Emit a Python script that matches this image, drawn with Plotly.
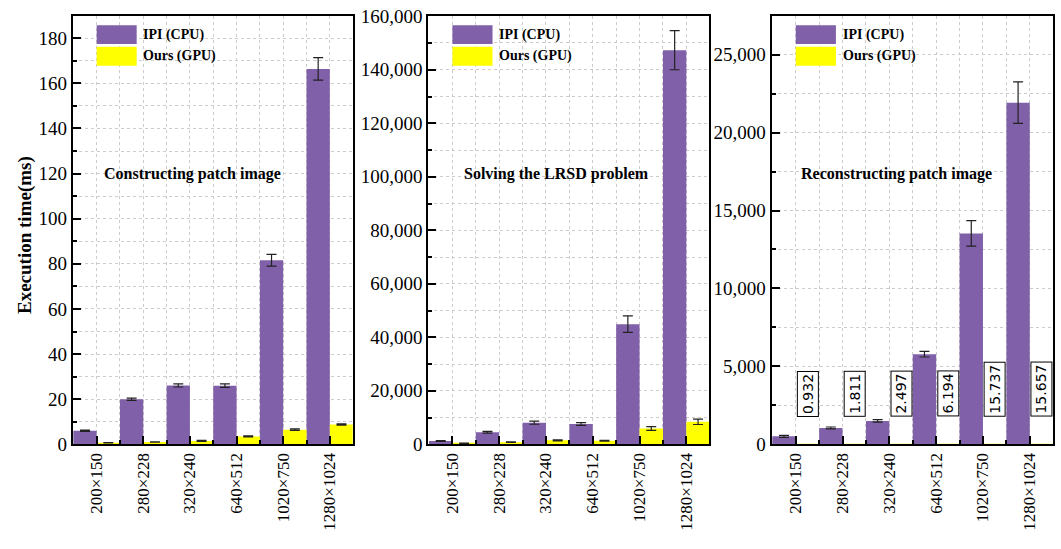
import plotly.graph_objects as go

# Image sizes (x categories)
sizes = ["200×150", "280×228", "320×240", "640×512", "1020×750", "1280×1024"]
idx = list(range(len(sizes)))

# Stage 1: constructing patch image (ms)
construct_cpu = [6.0, 20.0, 26.1, 26.0, 81.6, 166.4]
construct_cpu_err = [0.3, 0.5, 0.7, 0.8, 2.6, 5.0]
construct_gpu = [0.7, 1.0, 1.5, 3.5, 6.5, 8.8]
construct_gpu_err = [0.1, 0.1, 0.2, 0.2, 0.3, 0.3]

# Stage 2: solving the LRSD problem (ms)
lrsd_cpu = [1200, 4500, 8100, 7600, 44900, 147300]
lrsd_cpu_err = [150, 300, 600, 500, 3100, 7300]
lrsd_gpu = [400, 800, 1500, 1300, 5900, 8400]
lrsd_gpu_err = [80, 100, 200, 150, 700, 1000]

# Stage 3: reconstructing patch image (ms)
recon_cpu = [510, 1050, 1500, 5780, 13530, 21920]
recon_cpu_err = [60, 60, 80, 180, 820, 1330]
recon_gpu = [0.932, 1.811, 2.497, 6.194, 15.737, 15.657]

panel_titles = ["Constructing patch image", "Solving the LRSD problem", "Reconstructing patch image"]
legend_names = ["IPI (CPU)", "Ours (GPU)"]

PURPLE = "#8061A9"
YELLOW = "#FFFF00"
SERIF = "Liberation Serif"

panels = [
    (construct_cpu, construct_cpu_err, construct_gpu, construct_gpu_err),
    (lrsd_cpu, lrsd_cpu_err, lrsd_gpu, lrsd_gpu_err),
    (recon_cpu, recon_cpu_err, recon_gpu, None),
]

x_domains = [(0.0685, 0.3324), (0.4037, 0.6685), (0.7273, 0.9922)]
y_domain = (0.1907, 0.9714)
y_ranges = [(0, 190), (0, 160200), (0, 27500)]
y_dticks = [20, 20000, 5000]

fig = go.Figure()

for k, (cpu, cpu_err, gpu, gpu_err) in enumerate(panels):
    xa = "x" if k == 0 else f"x{k + 1}"
    ya = "y" if k == 0 else f"y{k + 1}"
    err_style = dict(type="data", color="#222222", thickness=1.2, width=5)
    fig.add_trace(go.Bar(
        x=idx, y=cpu, width=0.5, offset=-0.5, marker=dict(color=PURPLE, line=dict(width=0)),
        error_y=dict(array=cpu_err, **err_style), name=legend_names[0],
        xaxis=xa, yaxis=ya, showlegend=False))
    gpu_kw = dict(error_y=dict(array=gpu_err, **err_style)) if gpu_err is not None else {}
    fig.add_trace(go.Bar(
        x=idx, y=gpu, width=0.5, offset=0.0, marker=dict(color=YELLOW, line=dict(width=0)),
        name=legend_names[1], xaxis=xa, yaxis=ya, showlegend=False, **gpu_kw))

    axis_common = dict(
        showline=True, linecolor="black", linewidth=2, mirror=True,
        ticks="inside", ticklen=8, tickwidth=1.5, tickcolor="black",
        showgrid=True, gridcolor="#cccccc", gridwidth=1, griddash="3px,3px",
        zeroline=False, automargin=False,
    )
    xkey = "xaxis" if k == 0 else f"xaxis{k + 1}"
    ykey = "yaxis" if k == 0 else f"yaxis{k + 1}"
    fig.layout[xkey] = dict(
        domain=list(x_domains[k]), anchor=ya, range=[-0.514, 5.49],
        tickmode="array", tickvals=idx, ticktext=sizes, tickangle=-90,
        tickfont=dict(family=SERIF, size=17, color="black"),
        minor=dict(tickvals=[i + 0.5 for i in idx[:-1]], showgrid=True, gridcolor="#cccccc",
                   griddash="3px,3px", ticks="inside", ticklen=4, tickcolor="black"),
        **axis_common)
    fig.layout[ykey] = dict(
        domain=list(y_domain), anchor=xa, range=list(y_ranges[k]),
        tick0=0, dtick=y_dticks[k], tickformat=",d",
        tickfont=dict(family=SERIF, size=19, color="black"),
        minor=dict(dtick=y_dticks[k] / 2, showgrid=True, gridcolor="#cccccc",
                   griddash="3px,3px", ticks="inside", ticklen=4, tickcolor="black"),
        **axis_common)

    # In-panel legend: colour blocks with bold labels
    xd = f"{xa} domain"
    yd = f"{ya} domain"
    fig.add_shape(type="rect", xref=xd, yref=yd, x0=0.0857, x1=0.2286, y0=0.934, y1=0.978,
                  fillcolor=PURPLE, line=dict(width=0))
    fig.add_shape(type="rect", xref=xd, yref=yd, x0=0.0857, x1=0.2286, y0=0.8833, y1=0.9277,
                  fillcolor=YELLOW, line=dict(width=0))
    for name, yc in zip(legend_names, [0.956, 0.906]):
        fig.add_annotation(xref=xd, yref=yd, x=0.245, y=yc, xanchor="left", yanchor="middle",
                           text=f"<b>{name}</b>", showarrow=False,
                           font=dict(family=SERIF, size=14, color="black"))

    # Stage title inside the panel
    title_x = [0.4286, 0.457, 0.445][k]
    fig.add_annotation(xref=xd, yref=yd, x=title_x, y=0.631, xanchor="center", yanchor="middle",
                       text=f"<b>{panel_titles[k]}</b>", showarrow=False,
                       font=dict(family=SERIF, size=16, color="black"))

# Boxed GPU times for the reconstruction stage
for i, v in zip(idx, recon_gpu):
    fig.add_annotation(xref="x3", yref="y3", x=i + 0.25, y=1780, xanchor="center", yanchor="bottom",
                       text=f"{v:.3f}", textangle=-90, showarrow=False,
                       font=dict(family="DejaVu Sans", size=14, color="black"),
                       bgcolor="white", bordercolor="black", borderwidth=1, borderpad=2)

# Shared y-axis title
fig.add_annotation(xref="paper", yref="paper", x=25 / 1061, y=1 - 235 / 549, xanchor="center",
                   yanchor="middle", text="<b>Execution time(ms)</b>", textangle=-90,
                   showarrow=False, font=dict(family=SERIF, size=19, color="black"))

fig.update_layout(
    width=1061, height=549, margin=dict(l=0, r=0, t=0, b=0, autoexpand=False),
    paper_bgcolor="white", plot_bgcolor="white", barmode="overlay",
    font=dict(family=SERIF, color="black"),
)

fig.write_html("out.html")
